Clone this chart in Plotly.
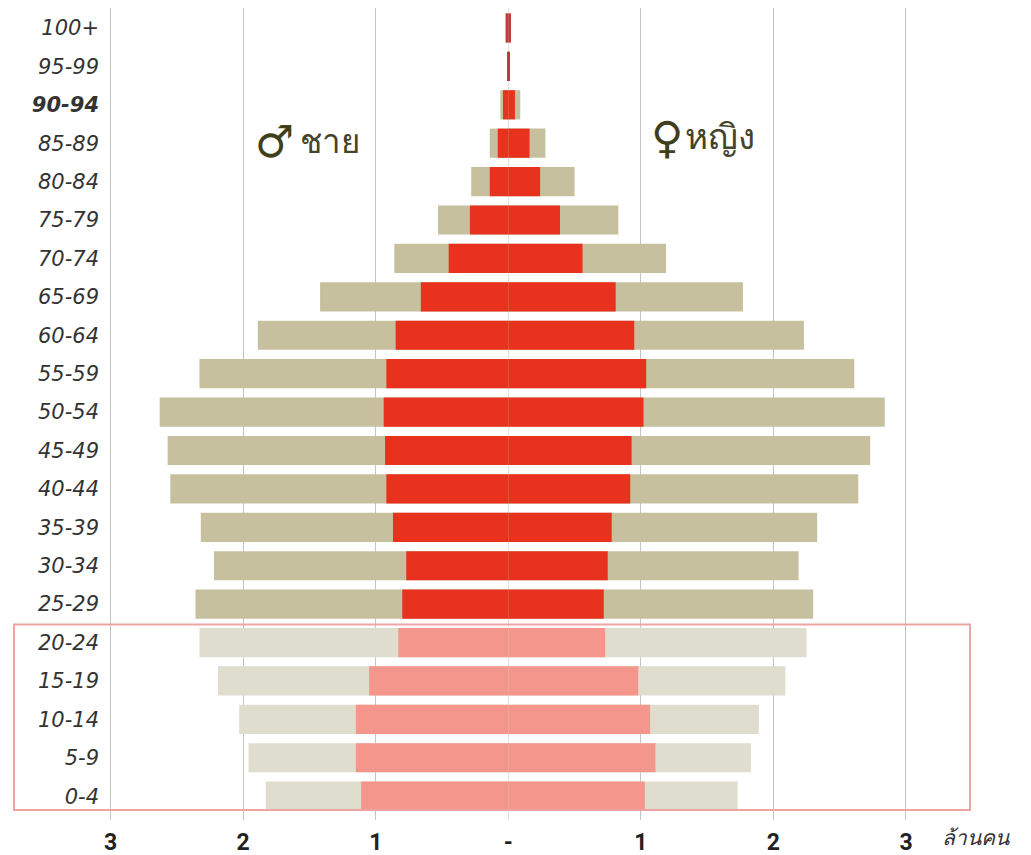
import plotly.graph_objects as go

ages = ['0-4', '5-9', '10-14', '15-19', '20-24', '25-29', '30-34', '35-39',
        '40-44', '45-49', '50-54', '55-59', '60-64', '65-69', '70-74',
        '75-79', '80-84', '85-89', '90-94', '95-99', '100+']
age_labels = [a if a != '90-94' else '<b>90-94</b>' for a in ages]

male_outer = [1.83, 1.96, 2.03, 2.19, 2.33, 2.36, 2.22, 2.32, 2.55, 2.57, 2.63,
              2.33, 1.89, 1.42, 0.86, 0.53, 0.28, 0.14, 0.06, 0.01, 0.02]
male_inner = [1.11, 1.15, 1.15, 1.05, 0.83, 0.80, 0.77, 0.87, 0.92, 0.93, 0.94,
              0.92, 0.85, 0.66, 0.45, 0.29, 0.14, 0.08, 0.04, 0.01, 0.02]
female_outer = [1.73, 1.83, 1.89, 2.09, 2.25, 2.30, 2.19, 2.33, 2.64, 2.73, 2.84,
                2.61, 2.23, 1.77, 1.19, 0.83, 0.50, 0.28, 0.09, 0.01, 0.02]
female_inner = [1.03, 1.11, 1.07, 0.98, 0.73, 0.72, 0.75, 0.78, 0.92, 0.93, 1.02,
                1.04, 0.95, 0.81, 0.56, 0.39, 0.24, 0.16, 0.05, 0.01, 0.02]

x_tickvals = [-3, -2, -1, 0, 1, 2, 3]
x_ticktext = ['3', '2', '1', '-', '1', '2', '3']

highlight = {'0-4', '5-9', '10-14', '15-19', '20-24'}
TAN, TAN_L = '#c6c09f', '#dfddce'
RED, RED_L = '#e8321e', '#f4968c'
tan_colors = [TAN_L if a in highlight else TAN for a in ages]
red_colors = [RED_L if a in highlight else RED for a in ages]
red_colors[-1] = '#c23a3a'
red_colors[-2] = '#c23a3a'

# layout geometry (page has an 8px body offset)
L, R, T, B = 100, 80, 0, 43
FW, FH = 1031, 855
PW = FW - L - R
PH = FH - T - B
XR = [-3.02, 3.4]
YR = [-0.62, 20.52]

fig = go.Figure()
W = 0.76
fig.add_trace(go.Bar(y=ages, x=[-v for v in male_outer], orientation='h', width=W,
                     marker=dict(color=tan_colors, line=dict(width=0)), showlegend=False))
fig.add_trace(go.Bar(y=ages, x=female_outer, orientation='h', width=W,
                     marker=dict(color=tan_colors, line=dict(width=0)), showlegend=False))
fig.add_trace(go.Bar(y=ages, x=[-v for v in male_inner], orientation='h', width=W,
                     marker=dict(color=red_colors, line=dict(width=0)), showlegend=False))
fig.add_trace(go.Bar(y=ages, x=female_inner, orientation='h', width=W,
                     marker=dict(color=red_colors, line=dict(width=0)), showlegend=False))

fig.update_layout(
    width=FW, height=FH,
    barmode='overlay',
    plot_bgcolor='white', paper_bgcolor='white',
    margin=dict(l=L, r=R, t=T, b=B, autoexpand=False),
    xaxis=dict(range=XR, tickvals=x_tickvals, ticktext=x_ticktext,
               showgrid=True, gridcolor='#c4c4c4', gridwidth=1.2,
               zeroline=True, zerolinecolor='#e2e2e2', zerolinewidth=1,
               showline=False, ticks='', automargin=False, ticklabelstandoff=6,
               tickfont=dict(family='Roboto', size=23, color='#222', weight='bold')),
    yaxis=dict(type='category', categoryorder='array', categoryarray=ages,
               tickvals=ages, ticktext=age_labels, range=YR,
               showgrid=False, zeroline=False, showline=False, ticks='',
               ticklabelstandoff=8, automargin=False,
               tickfont=dict(family='DejaVu Sans', size=21, color='#333', style='italic')),
    font=dict(family='Roboto'),
)

OLIVE = '#3f3f1c'
TXT = '#45432a'
SYM_FONT = dict(family='DejaVu Sans', size=44, color=OLIVE, weight='bold')
fig.add_annotation(x=-1.605, y='85-89', yshift=2, xanchor='right',
                   text='♂', showarrow=False, font=SYM_FONT)
fig.add_annotation(x=-1.59, y='85-89', yshift=2, xanchor='left',
                   text='ชาย', showarrow=False, font=dict(size=33, color=TXT, weight='normal'))
fig.add_annotation(x=1.33, y='85-89', yshift=6, xanchor='right',
                   text='♀', showarrow=False, font=SYM_FONT)
fig.add_annotation(x=1.32, y='85-89', yshift=6, xanchor='left',
                   text='หญิง', showarrow=False, font=dict(size=35, color=TXT, weight='normal'))
fig.add_annotation(xref='paper', yref='paper', x=1.02, y=0, yshift=-32, xanchor='center',
                   text='ล้านคน', showarrow=False,
                   font=dict(size=21, color='#333', style='italic'))

# highlight box around ages 0-24 (page px 14..970 horizontally)
def px_to_paper_x(page_x):
    return (page_x - 8 - L) / PW

def val_to_paper_y(v):
    return (v - YR[0]) / (YR[1] - YR[0])

fig.add_shape(type='rect', xref='paper', yref='paper',
              x0=px_to_paper_x(14), x1=px_to_paper_x(970),
              y0=val_to_paper_y(-0.36), y1=val_to_paper_y(4.47),
              line=dict(color='#f0a3a3', width=2), fillcolor='rgba(0,0,0,0)', layer='above')

fig.write_html('out.html')
